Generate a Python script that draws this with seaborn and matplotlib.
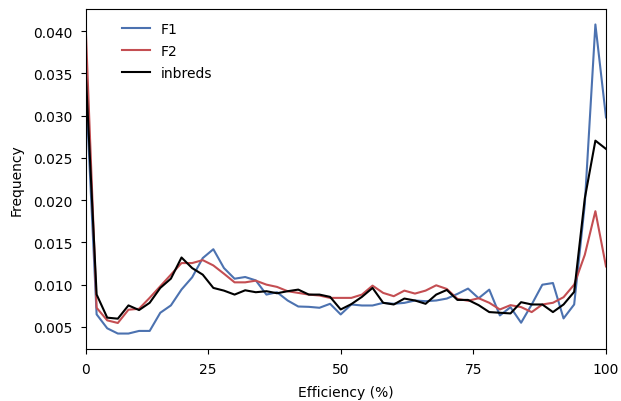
import matplotlib
matplotlib.use("Agg")
import matplotlib.pyplot as plt
import seaborn as sns
import pandas as pd

efficiency = [2, 4, 6, 8, 10, 12, 14, 16, 18, 20,
              22, 24, 26, 28, 30, 32, 34, 36, 38, 40,
              42, 44, 46, 48, 50, 52, 54, 56, 58, 60,
              62, 64, 66, 68, 70, 72, 74, 76, 78, 80,
              82, 84, 86, 88, 90, 92, 94, 96, 98, 100]

f1 = [0.0330, 0.00649, 0.00484, 0.00422, 0.00422, 0.00453, 0.00453, 0.00668, 0.00755, 0.00943,
      0.01087, 0.01315, 0.01420, 0.01197, 0.01071, 0.01091, 0.01051, 0.00883, 0.00911, 0.00813,
      0.00742, 0.00738, 0.00727, 0.00774, 0.00648, 0.00766, 0.00754, 0.00754, 0.00785, 0.00774,
      0.00785, 0.00813, 0.00805, 0.00813, 0.00836, 0.00891, 0.00954, 0.00840, 0.00942, 0.00636,
      0.00734, 0.00550, 0.00766, 0.01000, 0.01020, 0.00601, 0.00766, 0.01950, 0.04080, 0.02980]

f2 = [0.0396, 0.00727, 0.00578, 0.00547, 0.00704, 0.00715, 0.00845, 0.00982, 0.01119, 0.01256,
      0.01256, 0.01291, 0.01228, 0.01130, 0.01028, 0.01028, 0.01048, 0.01001, 0.00974, 0.00923,
      0.00903, 0.00883, 0.00872, 0.00844, 0.00844, 0.00844, 0.00883, 0.00989, 0.00903, 0.00864,
      0.00930, 0.00895, 0.00930, 0.00993, 0.00950, 0.00832, 0.00810, 0.00840, 0.00786, 0.00707,
      0.00758, 0.00735, 0.00676, 0.00766, 0.00786, 0.00852, 0.01001, 0.01353, 0.01870, 0.01216]

inbreds = [0.0345, 0.00884, 0.00610, 0.00598, 0.00755, 0.00700, 0.00786, 0.00962, 0.01072, 0.01322,
           0.01197, 0.01119, 0.00962, 0.00930, 0.00883, 0.00934, 0.00911, 0.00923, 0.00899, 0.00923,
           0.00942, 0.00883, 0.00883, 0.00856, 0.00707, 0.00770, 0.00856, 0.00962, 0.00786, 0.00766,
           0.00836, 0.00813, 0.00774, 0.00883, 0.00938, 0.00820, 0.00820, 0.00758, 0.00676, 0.00668,
           0.00660, 0.00793, 0.00766, 0.00766, 0.00676, 0.00766, 0.00915, 0.02020, 0.02705, 0.02607]

groups = ["F1", "F2", "inbreds"]
colors = {"F1": "#4C72B0", "F2": "#C44E52", "inbreds": "black"}
xtick_pos = [2, 25, 50, 75, 100]
xtick_labels = ["0", "25", "50", "75", "100"]

df = pd.concat([
    pd.DataFrame({"Efficiency": efficiency, "Frequency": vals, "group": g})
    for g, vals in zip(groups, [f1, f2, inbreds])
], ignore_index=True)

fig = plt.figure(figsize=(6.21, 4.02), dpi=100)
ax = fig.add_axes([86 / 621, 1 - 350 / 402, 520 / 621, 340 / 402])

sns.lineplot(data=df, x="Efficiency", y="Frequency", hue="group",
             hue_order=groups, palette=colors, linewidth=1.5, ax=ax)

ax.set_xlim(efficiency[0], efficiency[-1])
ax.set_xticks(xtick_pos)
ax.set_xticklabels(xtick_labels)
ax.tick_params(axis="both", pad=6)
ax.set_xlabel("Efficiency (%)", labelpad=6)
ax.set_ylabel("Frequency", labelpad=7)

handles, labels = ax.get_legend_handles_labels()
ax.legend(handles, labels, frameon=False, loc="upper left",
          bbox_to_anchor=(0.045, 1.0), labelspacing=0.6)

fig.savefig("out.png", dpi=100)
